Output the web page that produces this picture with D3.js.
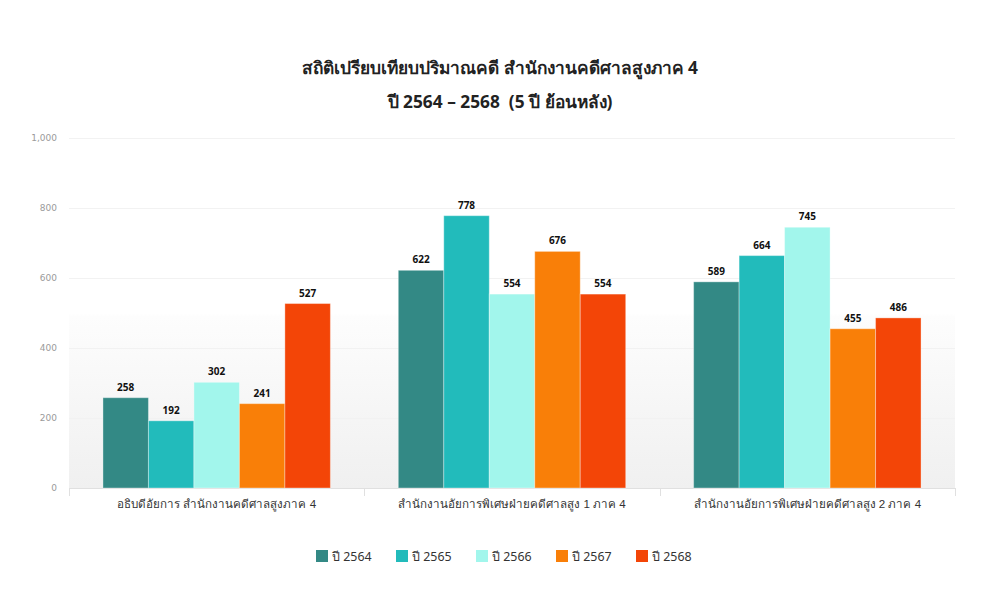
<!DOCTYPE html>
<html><head><meta charset="utf-8">
<script src="https://cdn.jsdelivr.net/npm/d3@7"></script>
<style>
body{margin:0;background:#fff;}
svg{display:block;font-family:Tahoma,"Noto Sans","DejaVu Sans",sans-serif;}
text{white-space:pre;}
</style></head>
<body><svg id="c" width="1000" height="606"></svg>
<script>
const categories = ["อธิบดีอัยการ สำนักงานคดีศาลสูงภาค 4","สำนักงานอัยการพิเศษฝ่ายคดีศาลสูง 1 ภาค 4","สำนักงานอัยการพิเศษฝ่ายคดีศาลสูง 2 ภาค 4"];
const seriesNames = ["ปี 2564","ปี 2565","ปี 2566","ปี 2567","ปี 2568"];
const v2564 = [258,622,589];
const v2565 = [192,778,664];
const v2566 = [302,554,745];
const v2567 = [241,676,455];
const v2568 = [527,554,486];
const seriesValues = [v2564,v2565,v2566,v2567,v2568];
const colors = ["#338985","#22BBBB","#A2F6EC","#F97F08","#F34507"];
const yTicks = [0,200,400,600,800,1000];
const titleLines = ["สถิติเปรียบเทียบปริมาณคดี สำนักงานคดีศาลสูงภาค 4","ปี 2564 – 2568  (5 ปี ย้อนหลัง)"];

const svg = d3.select("#c");
const L=69,R=955,T=138,B=488;
const x0 = d3.scaleBand().domain(categories).range([L,R]).paddingInner(0.23).paddingOuter(0.115);
const x1 = d3.scaleBand().domain(seriesNames).range([0,x0.bandwidth()]);
const y = d3.scaleLinear().domain([0,1000]).range([B,T]);

const defs = svg.append("defs");
const g = defs.append("linearGradient").attr("id","bg").attr("x1",0).attr("y1",0).attr("x2",0).attr("y2",1);
g.append("stop").attr("offset",0).attr("stop-color","#ffffff");
g.append("stop").attr("offset",0.5).attr("stop-color","#ffffff");
g.append("stop").attr("offset",0.51).attr("stop-color","#fdfdfd");
g.append("stop").attr("offset",1).attr("stop-color","#f0f0f0");
svg.append("rect").attr("x",L).attr("y",T).attr("width",R-L).attr("height",B-T).attr("fill","url(#bg)");

// grid
svg.append("g").selectAll("line").data(yTicks.filter(d=>d>0)).join("line")
  .attr("x1",L).attr("x2",R).attr("y1",d=>y(d)+0.5).attr("y2",d=>y(d)+0.5)
  .attr("stroke","#f2f2f2").attr("stroke-width",1);

// y axis labels
const yAxis = d3.axisLeft(y).tickValues(yTicks).tickSize(0).tickPadding(0).tickFormat(d3.format(","));
const ya = svg.append("g").attr("transform",`translate(${L-12},0)`).call(yAxis);
ya.select(".domain").remove();
ya.selectAll("text").attr("fill","#9a9a9a").attr("font-size",9).attr("font-family","Tahoma,'DejaVu Sans',sans-serif");

// x axis
const xAxis = d3.axisBottom(x0).tickSize(0).tickPadding(12);
const xa = svg.append("g").attr("transform",`translate(0,${B})`).call(xAxis);
xa.select(".domain").attr("stroke","#e0e0e0").attr("d",`M${L},0.5H${R}`);
xa.selectAll("text").attr("fill","#333").attr("font-size",11.6);
// category separators
const seps = [L, ...categories.slice(1).map(c=>x0(c)-x0.step()*x0.paddingInner()/2), R];
svg.append("g").selectAll("line").data(seps).join("line")
  .attr("x1",d=>Math.round(d)+0.5).attr("x2",d=>Math.round(d)+0.5).attr("y1",B).attr("y2",B+8)
  .attr("stroke","#e0e0e0");

// bars
const groups = svg.append("g").selectAll("g").data(categories).join("g")
  .attr("transform",c=>`translate(${x0(c)},0)`);
groups.each(function(c,ci){
  const gg = d3.select(this);
  seriesNames.forEach((s,si)=>{
    const v = seriesValues[si][ci];
    gg.append("rect").attr("x",x1(s)).attr("y",y(v)).attr("width",x1.bandwidth()).attr("height",B-y(v))
      .attr("fill",colors[si]).attr("stroke","rgba(255,255,255,0.35)").attr("stroke-width",1);
    gg.append("text").attr("x",x1(s)+x1.bandwidth()/2).attr("y",y(v)-7).attr("text-anchor","middle")
      .attr("font-size",10).attr("font-weight","bold").attr("fill","#111").text(v);
  });
});

// title
svg.append("g").selectAll("text").data(titleLines).join("text")
  .attr("x",500).attr("y",(d,i)=>74+i*34).attr("text-anchor","middle")
  .attr("font-size",17.3).attr("font-weight","bold").attr("fill","#222").text(d=>d);

// legend
const lg = svg.append("g").selectAll("g").data(seriesNames).join("g")
  .attr("transform",(d,i)=>`translate(${316+i*80},550)`);
lg.append("rect").attr("width",12).attr("height",12).attr("fill",(d,i)=>colors[i]);
lg.append("text").attr("x",16).attr("y",10.5).attr("font-size",12.4).attr("fill","#333").text(d=>d);
</script></body></html>
